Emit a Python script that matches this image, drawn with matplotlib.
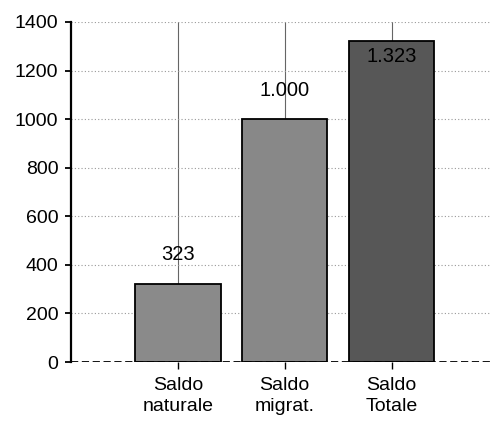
import matplotlib
matplotlib.use("Agg")
import matplotlib.pyplot as plt

categories = ["Saldo\nnaturale", "Saldo\nmigrat.", "Saldo\nTotale"]
values = [323, 1000, 1323]
value_labels = ["323", "1.000", "1.323"]
bar_colors = ["#8a8a8a", "#888888", "#575757"]
yticks = [0, 200, 400, 600, 800, 1000, 1200, 1400]

plt.rcParams['font.family'] = ['Liberation Sans', 'DejaVu Sans']

fig = plt.figure(figsize=(4.91, 4.23), dpi=100)
ax = fig.add_axes([71/491, 1-362/423, 1-71/491, (362-22)/423])

x = [1, 2, 3]
ax.set_axisbelow(True)
ax.grid(axis='y', color='#999999', linestyle=(0, (1, 2)), linewidth=0.8)
ax.grid(axis='x', color='#666666', linestyle='-', linewidth=0.8)
bars = ax.bar(x, values, width=0.8, color=bar_colors, edgecolor='black', linewidth=1.3, zorder=3)

for xi, v, lab in zip(x, values, value_labels):
    if v > 1200:
        ax.text(xi, v - 25, lab, ha='center', va='top', fontsize=14.5, color='black', zorder=4)
    else:
        ax.text(xi, v + 80, lab, ha='center', va='bottom', fontsize=14.5, color='black', zorder=4)

ax.axhline(0, color='black', linestyle=(0, (4, 2)), linewidth=1.3, zorder=4)

ax.set_xlim(0, 3.93)
ax.set_ylim(0, 1400)
ax.set_yticks(yticks)
ax.set_yticklabels([str(t) for t in yticks], fontsize=14)
ax.set_xticks(x)
ax.set_xticklabels(categories, fontsize=14, linespacing=1.25)
ax.tick_params(axis='x', length=5, width=1, direction='out', pad=6)
ax.tick_params(axis='y', length=4, width=1.3, direction='out', pad=5)
for s in ['top', 'right', 'bottom']:
    ax.spines[s].set_visible(False)
ax.spines['left'].set_linewidth(1.6)

fig.savefig("out.png", dpi=100)
